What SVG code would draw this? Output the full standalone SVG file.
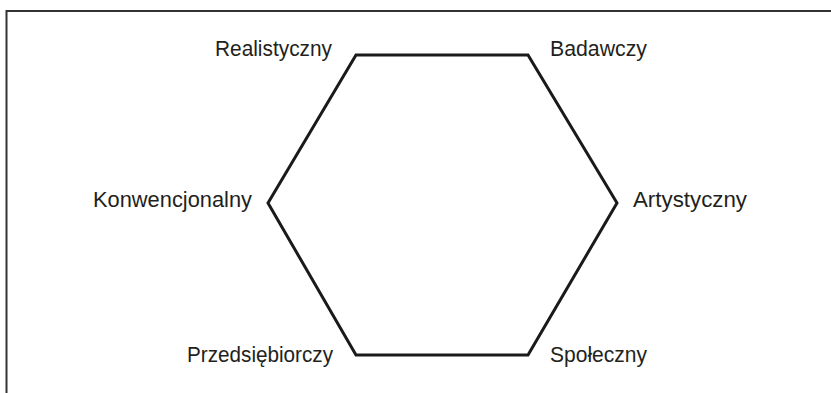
<svg xmlns="http://www.w3.org/2000/svg" width="831" height="393" viewBox="0 0 831 393">
<style>
.frame{fill:none;stroke:#333;stroke-width:2}
.hex{fill:none;stroke:#1a1a1a;stroke-width:3;stroke-linejoin:miter}
.lbl{font-family:"Liberation Sans Narrow","Liberation Sans",Arial,sans-serif;font-size:22px;fill:#231f20}
</style>
<rect width="831" height="393" fill="#fff"/>
<path class="frame" d="M6.5,393 V11 H831"/>
<g id="connectors">
<polygon class="hex" points="356,55 528,55 617,203 528,355 356,355 268,203"/>
</g>
<g id="realistyczny"><text class="lbl" x="215" y="56" textLength="117" lengthAdjust="spacingAndGlyphs">Realistyczny</text></g>
<g id="badawczy"><text class="lbl" x="550" y="56" textLength="97" lengthAdjust="spacingAndGlyphs">Badawczy</text></g>
<g id="konwencjonalny"><text class="lbl" x="93" y="207" textLength="159" lengthAdjust="spacingAndGlyphs">Konwencjonalny</text></g>
<g id="artystyczny"><text class="lbl" x="633" y="207" textLength="114" lengthAdjust="spacingAndGlyphs">Artystyczny</text></g>
<g id="przedsiebiorczy"><text class="lbl" x="187" y="362" textLength="146" lengthAdjust="spacingAndGlyphs">Przedsiębiorczy</text></g>
<g id="spoleczny"><text class="lbl" x="550" y="362" textLength="97" lengthAdjust="spacingAndGlyphs">Społeczny</text></g>
</svg>
